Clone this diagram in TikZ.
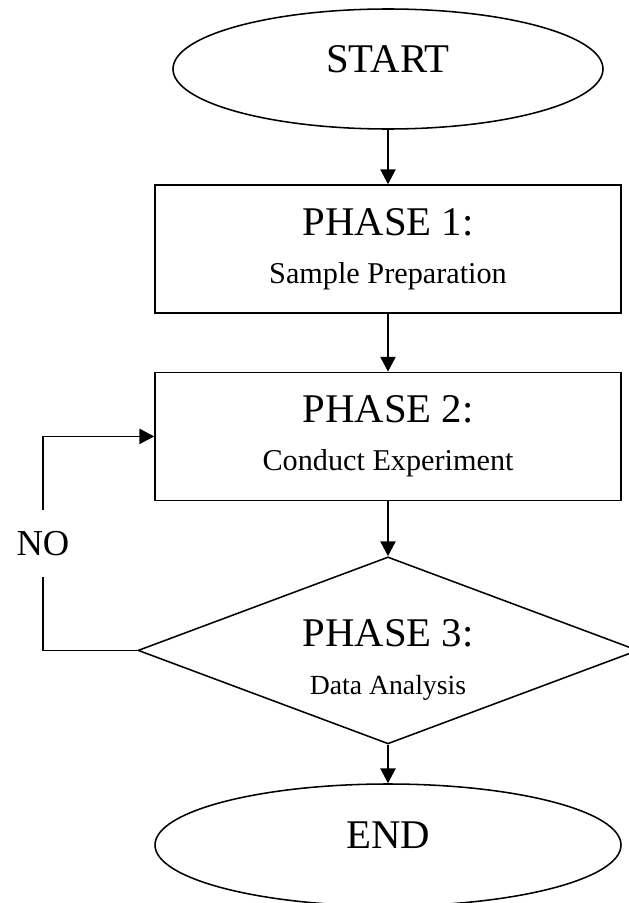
\documentclass[tikz,border=0pt]{standalone}
\usepackage{fontspec}
\setmainfont{Liberation Serif}
\usetikzlibrary{shapes.geometric,arrows.meta}

\newcommand{\headfont}{\fontsize{29}{34}\selectfont}
\newcommand{\subfont}{\fontsize{21.5}{27.7}\selectfont}

\begin{document}
\begin{tikzpicture}[line width=1.1pt,
    terminal/.style={ellipse,draw,inner sep=0pt,minimum width=10.75cm,minimum height=3cm,font=\headfont,text depth=0.5cm},
    phasebox/.style={rectangle,draw,minimum width=11.65cm,minimum height=3.2cm,align=center,font=\headfont},
    decision/.style={diamond,draw,shape aspect=2.67,inner sep=0pt,minimum width=12.5cm,minimum height=4.675cm,align=center,font=\headfont},
    flow/.style={-{Triangle[length=0.37cm,width=0.38cm]}}]
	\useasboundingbox (0,0) rectangle (15.7,-22.575);

	\node (start) at (9.7,-1.725) [terminal] {START};
	\node (phase1) at (9.7,-6.225) [phasebox] {PHASE 1:\\{\subfont Sample Preparation}};
	\node (phase2) at (9.7,-10.91) [phasebox] {PHASE 2:\\{\subfont Conduct Experiment}};
	\node (phase3) at (9.7,-16.26) [decision] {\rule{0pt}{33pt}PHASE 3:\\{\fontsize{19.7}{32}\selectfont Data Analysis}};
	\node (stop) at (9.7,-21.125) [terminal,minimum width=11.65cm,minimum height=3.05cm] {END};
	\node (no) at (1.075,-13.59) [inner sep=0pt,minimum height=1.625cm,font=\fontsize{26}{30}\selectfont] {NO};

	\draw[flow] (start) -- (phase1);
	\draw[flow] (phase1) -- (phase2);
	\draw[flow] (phase2) -- (phase3);
	\draw[flow] (phase3) -- (stop);

	% the NO branch goes back to phase 2
	\draw (phase3.west) -| (no.south);
	\draw[flow] (no.north) |- (phase2.west);
\end{tikzpicture}
\end{document}
